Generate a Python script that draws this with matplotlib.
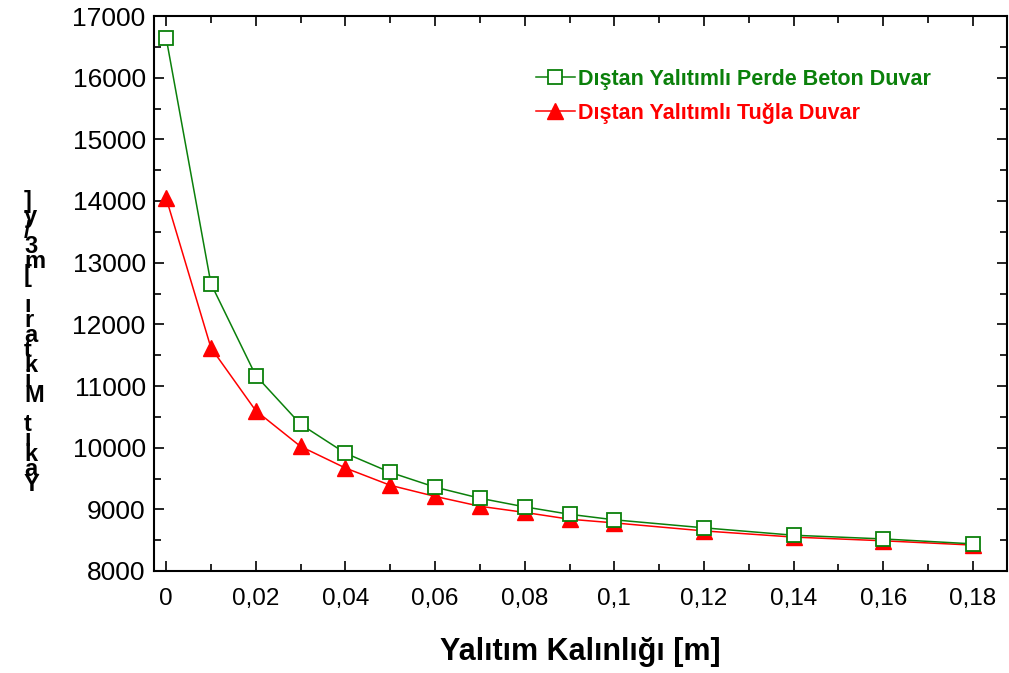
import matplotlib
matplotlib.use("Agg")
import matplotlib.pyplot as plt
from matplotlib.ticker import MultipleLocator, FuncFormatter

x = [0, 0.01, 0.02, 0.03, 0.04, 0.05, 0.06, 0.07, 0.08, 0.09, 0.10, 0.12, 0.14, 0.16, 0.18]
beton = [16650, 12660, 11170, 10380, 9910, 9600, 9360, 9180, 9040, 8920, 8830, 8700, 8580, 8520, 8440]
tugla = [14050, 11620, 10600, 10020, 9670, 9390, 9210, 9050, 8950, 8840, 8780, 8650, 8550, 8490, 8420]
label_beton = "Dıştan Yalıtımlı Perde Beton Duvar"
label_tugla = "Dıştan Yalıtımlı Tuğla Duvar"
xlabel = "Yalıtım Kalınlığı [m]"
ylabel = "Yakıt Miktarı [m3/y]"

GREEN = "#0b800b"
RED = "#ff0000"
arial = ["Liberation Sans", "DejaVu Sans"]

fig = plt.figure(figsize=(10.09, 6.73), dpi=100)
ax = fig.add_axes([154/1009, 1-571/673, (1007-154)/1009, (571-16)/673])

ax.plot(x, beton, color=GREEN, lw=1.1, marker="s", ms=9.5, mfc="white",
        mec=GREEN, mew=1.3, label=label_beton, zorder=3)
ax.plot(x, tugla, color=RED, lw=1.1, marker="^", ms=11, mfc=RED,
        mec=RED, label=label_tugla, zorder=2)

ax.set_xlim(-0.0027, 0.1876)
ax.set_ylim(8000, 17000)
ax.xaxis.set_major_locator(MultipleLocator(0.02))
ax.xaxis.set_minor_locator(MultipleLocator(0.01))
ax.yaxis.set_major_locator(MultipleLocator(1000))
ax.yaxis.set_minor_locator(MultipleLocator(500))
ax.xaxis.set_major_formatter(FuncFormatter(lambda v, p: ("%g" % round(v, 2)).replace(".", ",")))
ax.tick_params(which="both", direction="in", top=True, right=True, width=1.2, color="black")
ax.tick_params(which="major", length=7)
ax.tick_params(which="minor", length=5)
ax.tick_params(axis="y", which="major", labelsize=19, pad=6)
ax.tick_params(axis="x", which="major", labelsize=17.5, pad=12)
for lab in ax.get_yticklabels() + ax.get_xticklabels():
    lab.set_family(arial)
for s in ax.spines.values():
    s.set_linewidth(1.5)

ax.set_xlabel(xlabel, fontsize=22, fontweight="bold", family=arial, labelpad=20)

# vertically stacked y label (characters upright, read bottom to top)
stack = "\n".join(reversed(list(ylabel)))
fig.text(24/1009, 1-343/673, stack, fontsize=17, fontweight="bold", family=arial,
         ha="left", va="center", multialignment="left", linespacing=0.55)

leg = ax.legend(loc="upper left", bbox_to_anchor=(0.425, 0.94), frameon=False,
                handlelength=1.8, handletextpad=0.15, labelspacing=0.6,
                prop={"family": arial, "weight": "bold", "size": 15.5},
                labelcolor="linecolor")

fig.savefig("out.png", dpi=100)
